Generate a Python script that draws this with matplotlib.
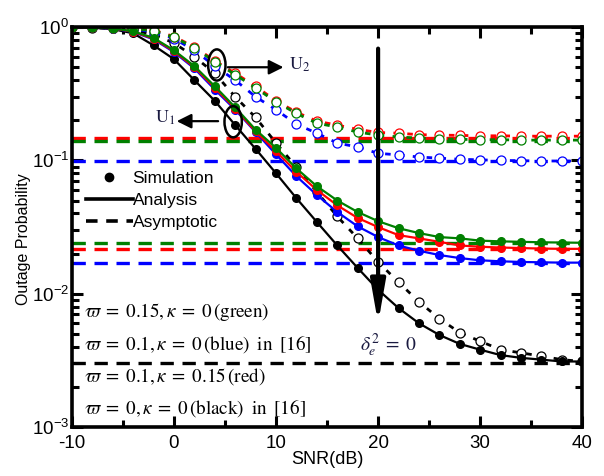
import numpy as np
import matplotlib
matplotlib.use("Agg")
import matplotlib.pyplot as plt
from matplotlib.lines import Line2D
from matplotlib.patches import Ellipse

plt.rcParams['font.family'] = ['Liberation Sans', 'DejaVu Sans']
plt.rcParams['mathtext.fontset'] = 'stix'
plt.rcParams['axes.unicode_minus'] = False

# SNR grid (dB)
snr = np.arange(-10, 41, 2)

# U1 (near user) - simulation / analysis
u1_black = [1.0, 0.99, 0.965, 0.90, 0.73, 0.575, 0.40, 0.28, 0.184, 0.122, 0.080, 0.052, 0.0345,
            0.023, 0.0156, 0.0107, 0.0078, 0.0060, 0.0049, 0.0042, 0.0038, 0.00346, 0.0033,
            0.0032, 0.0031, 0.0031]
u1_green = [1.0, 0.995, 0.98, 0.93, 0.83, 0.67, 0.51, 0.36, 0.25, 0.17, 0.124, 0.087, 0.064,
            0.050, 0.041, 0.035, 0.031, 0.0285, 0.0266, 0.026, 0.025, 0.0247, 0.0245,
            0.0243, 0.0242, 0.0241]
u1_red = [1.0, 0.995, 0.98, 0.925, 0.82, 0.66, 0.50, 0.35, 0.245, 0.165, 0.117, 0.082, 0.060,
          0.046, 0.037, 0.0316, 0.0275, 0.026, 0.0245, 0.023, 0.0225, 0.0222, 0.022,
          0.0218, 0.0217, 0.0217]
u1_blue = [1.0, 0.995, 0.975, 0.92, 0.81, 0.65, 0.49, 0.34, 0.24, 0.163, 0.111, 0.076, 0.055,
           0.041, 0.032, 0.0266, 0.023, 0.021, 0.0195, 0.0185, 0.0178, 0.0175, 0.0173,
           0.0172, 0.0171, 0.0171]

# U2 (far user)
u2_black = [1.0, 0.99, 0.98, 0.95, 0.88, 0.76, 0.60, 0.45, 0.30, 0.21, 0.135, 0.089, 0.058,
            0.038, 0.026, 0.0173, 0.0122, 0.0087, 0.0065, 0.0051, 0.0044, 0.0038, 0.0036,
            0.0034, 0.0032, 0.0031]
u2_green = [1.0, 1.0, 0.99, 0.975, 0.94, 0.84, 0.70, 0.55, 0.44, 0.35, 0.275, 0.225, 0.19,
            0.178, 0.163, 0.155, 0.150, 0.147, 0.145, 0.144, 0.143, 0.143, 0.142,
            0.142, 0.142, 0.142]
u2_red = [1.0, 1.0, 0.99, 0.98, 0.95, 0.85, 0.71, 0.56, 0.45, 0.36, 0.28, 0.23, 0.197,
          0.184, 0.171, 0.162, 0.160, 0.156, 0.155, 0.154, 0.153, 0.153, 0.152,
          0.152, 0.152, 0.152]
u2_blue = [1.0, 1.0, 0.99, 0.97, 0.92, 0.82, 0.67, 0.51, 0.40, 0.30, 0.24, 0.187, 0.16,
           0.135, 0.126, 0.113, 0.110, 0.106, 0.104, 0.102, 0.101, 0.100, 0.0995,
           0.099, 0.099, 0.0988]

# asymptotes
asym_u1 = {'green': 0.024, 'red': 0.0216, 'blue': 0.017, 'black': 0.003}
asym_u2 = {'red': 0.147, 'green': 0.140, 'blue': 0.0986}

colors = {'green': '#008000', 'red': '#ff0000', 'blue': '#0000ff', 'black': '#000000'}

fig = plt.figure(figsize=(6.04, 4.76), dpi=100)
ax = fig.add_axes([0.119, 0.103, 0.845, 0.840])

xr = np.array([-10, 40])
for name in ['black', 'blue', 'red', 'green']:
    if name in asym_u2:
        ax.plot(xr, [asym_u2[name]] * 2, ls=(0, (4, 2.6)), lw=2.4, color=colors[name])
for name in ['black', 'blue', 'red', 'green']:
    ax.plot(xr, [asym_u1[name]] * 2, ls=(0, (4, 2.6)), lw=2.4, color=colors[name])

u1 = {'black': u1_black, 'blue': u1_blue, 'red': u1_red, 'green': u1_green}
u2 = {'black': u2_black, 'blue': u2_blue, 'red': u2_red, 'green': u2_green}
for name in ['black', 'blue', 'red', 'green']:
    c = colors[name]
    ax.plot(snr, u2[name], ls=(0, (2, 3)), lw=2.0, color=c,
            marker='o', ms=6.5, mfc='white', mec=c, mew=0.9)
    ax.plot(snr, u1[name], ls='-', lw=1.6, color=c,
            marker='o', ms=5.5, mfc=c, mec=c)

ax.set_yscale('log')
ax.set_xlim(-10, 40)
ax.set_ylim(1e-3, 1)
ax.set_xticks([-10, 0, 10, 20, 30, 40])
ax.set_xticks([-5, 5, 15, 25, 35], minor=True)
ax.tick_params(which='both', direction='in', top=True, right=True, labelsize=13.5, width=2.2)
ax.tick_params(which='major', length=8)
ax.tick_params(which='minor', length=5)
ax.tick_params(axis='x', pad=6)
ax.tick_params(axis='y', pad=2)
for s in ax.spines.values():
    s.set_linewidth(2.6)

ax.set_xlabel('SNR(dB)', fontsize=13, labelpad=-1)
ax.set_ylabel('Outage Probability', fontsize=11.5)
ax.yaxis.set_label_coords(-0.08, 0.47)

# legend
handles = [Line2D([], [], ls='none', marker='o', color='k', ms=6),
           Line2D([], [], ls='-', lw=2.6, color='k'),
           Line2D([], [], ls=(0, (3.2, 2.4)), lw=2.6, color='k')]
ax.legend(handles, ['Simulation', 'Analysis', 'Asymptotic'], loc='upper left',
          bbox_to_anchor=(0.0, 0.675), frameon=False, fontsize=12.5,
          handlelength=2.7, labelspacing=0.38, handletextpad=0.0, borderaxespad=0.4)

# parameter labels
params = [(0.0073, r'$\varpi\;=\;0.15,\kappa\;=\;0\,\left(\mathrm{green}\right)$'),
          (0.0042, r'$\varpi\;=\;0.1,\kappa\;=\;0\,\left(\mathrm{blue}\right)\;\;\mathrm{in}\;\;[16]$'),
          (0.00237, r'$\varpi\;=\;0.1,\kappa\;=\;0.15\,\left(\mathrm{red}\right)$'),
          (0.00138, r'$\varpi\;=\;0,\kappa\;=\;0\,\left(\mathrm{black}\right)\;\;\mathrm{in}\;\;[16]$')]
for yv, t in params:
    ax.text(-8.8, yv, t, fontsize=13.8, va='center', ha='left')


def frac(x, y):
    return ((x + 10) / 50.0, (np.log10(y) + 3) / 3.0)


# ellipses around marker groups
for (ex, ey) in [(4.2, 0.52), (5.8, 0.195)]:
    ax.add_patch(Ellipse(frac(ex, ey), 0.034, 0.078, transform=ax.transAxes,
                         fill=False, lw=1.8, color='k', zorder=5))

arrow = dict(arrowstyle='-|>', lw=1.6, color='k', mutation_scale=22)
ax.annotate('', xy=(11.0, 0.50), xytext=(5.0, 0.50), arrowprops=arrow)
ax.text(11.3, 0.52, r'$\mathrm{U}_2$', fontsize=13, color='#1a1a40', va='center')
ax.annotate('', xy=(0.0, 0.197), xytext=(4.6, 0.197), arrowprops=arrow)
ax.text(-1.9, 0.21, r'$\mathrm{U}_1$', fontsize=13, color='#1a1a40', va='center')

ax.annotate('', xy=(20, 0.006), xytext=(20, 0.69),
            arrowprops=dict(arrowstyle='-|>,head_length=1.25,head_width=0.22', lw=3.0,
                            color='k', mutation_scale=20, shrinkA=0, shrinkB=0))
ax.text(21, 0.0041, r'$\delta_e^2\;=\;0$', fontsize=14, ha='center', va='center',
        color='#1a1a40')

fig.savefig('out.png', dpi=100)
